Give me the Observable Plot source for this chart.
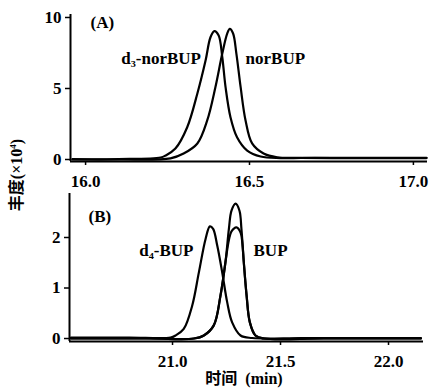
<!DOCTYPE html>
<html><head><meta charset="utf-8">
<script src="https://cdn.jsdelivr.net/npm/d3@7"></script>
<script src="https://cdn.jsdelivr.net/npm/@observablehq/plot@0.6"></script>
<style>
body{margin:0;background:#fff;}
#wrap{position:relative;width:433px;height:390px;overflow:hidden;font-family:"Liberation Serif",serif;}
#a{position:absolute;left:0;top:0;}
#b{position:absolute;left:0;top:190px;}
#ytitle{position:absolute;left:15px;top:175px;transform:translate(-50%,-50%) rotate(-90deg);white-space:nowrap;font-size:16px;color:#000;}
#xtitle{position:absolute;left:244px;top:378px;transform:translate(-50%,-50%);white-space:nowrap;font-size:16px;line-height:18px;color:#000;}
.cjk{font-family:"Noto Sans CJK SC",sans-serif;font-weight:bold;}
.ser{font-family:"Liberation Serif",serif;font-weight:bold;}
</style></head>
<body><div id="wrap"><div id="a"></div><div id="b"></div>
<div id="ytitle"><span class="cjk">丰度</span><span class="ser">(×10<sup style="font-size:9px">4</sup>)</span></div>
<div id="xtitle"><span class="cjk">时间</span><span class="ser">&nbsp;&nbsp;(min)</span></div>
</div>
<script>
// Panel A: time (min) and abundance (x10^4)
const tA_d3norBUP = [15.96,16.10,16.229,16.244,16.274,16.310,16.341,16.366,16.381,16.393,16.406,16.417,16.427,16.442,16.462,16.493,16.534,16.595,16.70,16.85,17.04];
const yA_d3norBUP = [0.02,0.03,0.14,0.28,0.77,2.27,4.65,6.97,8.61,9.04,8.73,7.20,5.09,2.98,1.57,0.63,0.21,0.10,0.12,0.12,0.12];
const tA_norBUP = [15.96,16.10,16.259,16.299,16.341,16.371,16.396,16.417,16.432,16.440,16.450,16.460,16.473,16.488,16.508,16.543,16.584,16.655,16.80,16.95,17.04];
const yA_norBUP = [0.0,0.0,0.08,0.42,1.13,2.75,5.09,7.46,8.87,9.20,8.87,7.46,5.09,2.75,1.13,0.42,0.16,0.12,0.10,0.10,0.10];
// Panel B
const tB_d4BUP = [20.53,20.80,20.991,21.014,21.052,21.091,21.122,21.153,21.173,21.188,21.207,21.230,21.253,21.276,21.315,21.369,21.60,21.90,22.15];
const yB_d4BUP = [0.02,0.02,0.02,0.06,0.19,0.65,1.31,1.97,2.22,2.17,1.84,1.31,0.72,0.32,0.06,0.01,0.01,0.01,0.01];
const tB_BUP1 = [20.53,20.90,21.099,21.145,21.191,21.222,21.245,21.261,21.273,21.292,21.310,21.319,21.330,21.343,21.358,21.384,21.423,21.70,22.15];
const yB_BUP1 = [0.0,0.0,0.0,0.06,0.26,0.85,1.51,2.17,2.53,2.67,2.53,2.17,1.51,0.85,0.32,0.06,0.0,0.0,0.0];
const tB_BUP2 = [20.53,20.90,21.099,21.145,21.191,21.222,21.245,21.261,21.273,21.296,21.315,21.323,21.330,21.343,21.358,21.384,21.423,21.70,22.15];
const yB_BUP2 = [0.0,0.0,0.0,0.06,0.26,0.85,1.51,1.95,2.12,2.20,2.10,1.90,1.51,0.85,0.32,0.06,0.0,0.0,0.0];
const ticksAx = [16.0,16.5,17.0], ticksAy = [0,5,10];
const ticksBx = [21.0,21.5,22.0], ticksBy = [0,1,2];
const labelsA = [{t:16.015,y:9.65,s:"(A)",a:"start"},{t:16.352,y:7.1,s:"d₃-norBUP",a:"end"},{t:16.488,y:7.1,s:"norBUP",a:"start"}];
const labelsB = [{t:20.611,y:2.42,s:"(B)",a:"start"},{t:21.097,y:1.74,s:"d₄-BUP",a:"end"},{t:21.375,y:1.74,s:"BUP",a:"start"}];

const zip=(t,y)=>t.map((v,i)=>({t:v,y:y[i]}));
const style={fontFamily:"Liberation Serif, serif",fontSize:"17px",fontWeight:"bold",color:"#000",background:"transparent"};

function panel(cfg){
  return Plot.plot({
    width:433,height:cfg.h,marginLeft:cfg.ml,marginRight:cfg.mr,marginTop:cfg.mt,marginBottom:cfg.mb,
    style,
    x:{domain:cfg.xd,label:null},
    y:{domain:cfg.yd,label:null},
    marks:[
      Plot.ruleY([cfg.yd[0]],{stroke:"#000",strokeWidth:2}),
      Plot.ruleX([cfg.xd[0]],{stroke:"#000",strokeWidth:2}),
      Plot.axisX({ticks:cfg.xt,tickFormat:d3.format(".1f"),tickSize:4,tickPadding:9,strokeWidth:1.5,fontSize:17,fontWeight:"bold"}),
      Plot.axisY({ticks:cfg.yt,tickFormat:d=>String(d),tickSize:5,tickPadding:4,strokeWidth:1.5,fontSize:17,fontWeight:"bold"}),
      ...cfg.series.map(s=>Plot.line(s,{x:"t",y:"y",stroke:"#000",strokeWidth:2.2,curve:"catmull-rom"})),
      Plot.text(cfg.labels.filter(d=>d.a==="start"),{x:"t",y:"y",text:"s",textAnchor:"start",fontSize:17,fontWeight:"bold",fill:"#000"}),
      Plot.text(cfg.labels.filter(d=>d.a==="end"),{x:"t",y:"y",text:"s",textAnchor:"end",fontSize:17,fontWeight:"bold",fill:"#000"})
    ]
  });
}
document.getElementById("a").append(panel({h:190,ml:70,mr:6,mt:14,mb:29,xd:[15.954,17.043],yd:[-0.141,10.21],xt:ticksAx,yt:ticksAy,
  series:[zip(tA_d3norBUP,yA_d3norBUP),zip(tA_norBUP,yA_norBUP)],labels:labelsA}));
document.getElementById("b").append(panel({h:200,ml:69,mr:10,mt:3,mb:49,xd:[20.523,22.162],yd:[-0.059,2.871],xt:ticksBx,yt:ticksBy,
  series:[zip(tB_d4BUP,yB_d4BUP),zip(tB_BUP1,yB_BUP1),zip(tB_BUP2,yB_BUP2)],labels:labelsB}));
</script></body></html>
